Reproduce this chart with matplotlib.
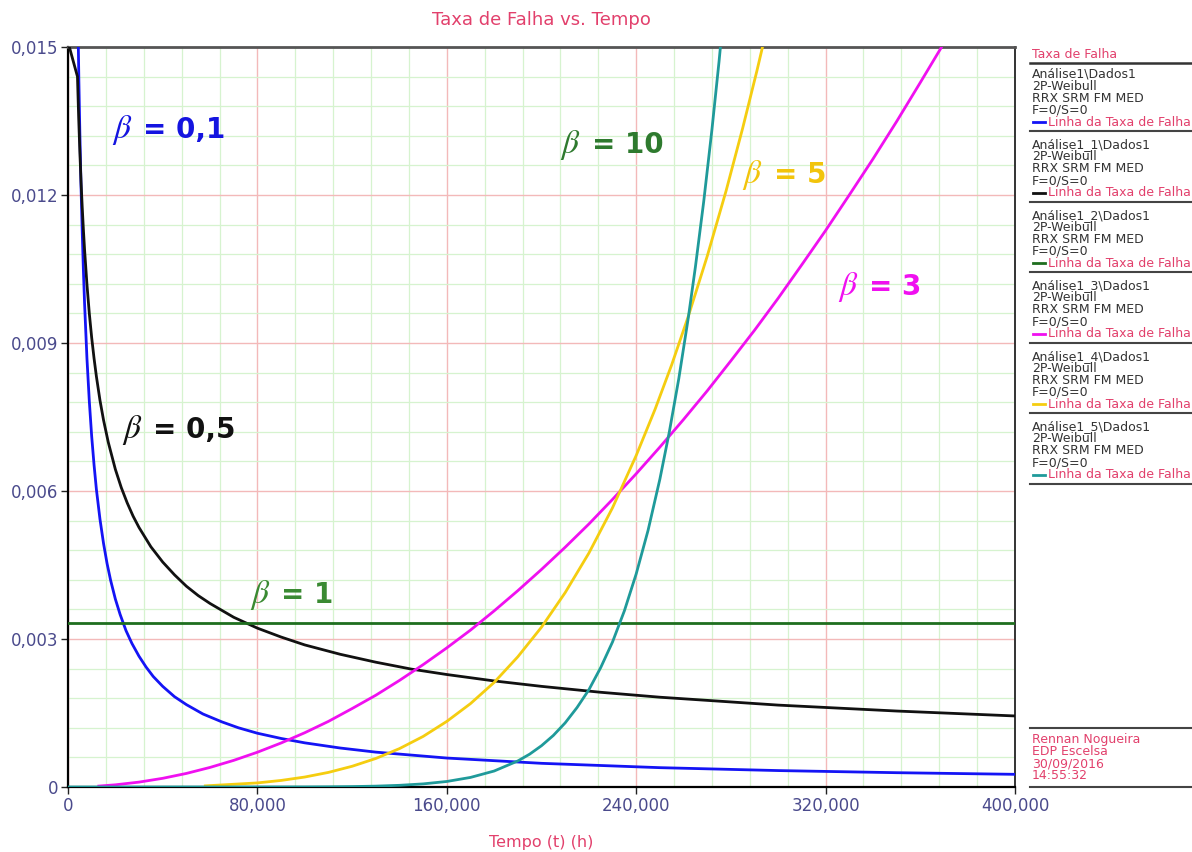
import matplotlib
matplotlib.use('Agg')
import matplotlib.pyplot as plt
from matplotlib.ticker import MultipleLocator

# --- data ---
# beta = 0.1 (blue)
time_b01 = [4300, 4600, 5000, 5500, 6000, 6500, 7000, 8000, 9000, 10000, 11000, 12000,
            13500, 15000, 16500, 18000, 20000, 22000, 24500, 27000, 30000, 33000, 36000,
            40000, 45000, 50000, 57000, 65000, 72000, 80000, 90000, 100000, 115000,
            130000, 160000, 200000, 250000, 300000, 350000, 400000]
rate_b01 = [0.0152, 0.01429, 0.01327, 0.01217, 0.01127, 0.01048, 0.00980, 0.00869,
            0.00782, 0.00711, 0.00653, 0.00603, 0.00543, 0.00494, 0.00453, 0.00419,
            0.00381, 0.00350, 0.00317, 0.00291, 0.00265, 0.00243, 0.00224, 0.00204,
            0.00183, 0.00167, 0.00148, 0.00132, 0.00120, 0.00109, 0.000984, 0.000895,
            0.000790, 0.000707, 0.000587, 0.000480, 0.000392, 0.000333, 0.000290, 0.000257]
# beta = 0.5 (black)
time_b05 = [0, 4000, 4500, 5000, 5500, 6000, 6500, 7000, 8000, 9000, 10000, 11000, 12000,
            13500, 15000, 17000, 20000, 22500, 25000, 27500, 30000, 35000, 40000, 45000,
            50000, 55000, 60000, 70000, 80000, 90000, 100000, 115000, 130000, 145000,
            160000, 180000, 200000, 225000, 250000, 275000, 300000, 325000, 350000,
            375000, 400000]
rate_b05 = [0.0151, 0.0144, 0.01358, 0.01288, 0.01228, 0.01176, 0.01130, 0.01089, 0.01019,
            0.00960, 0.00911, 0.00869, 0.00832, 0.00784, 0.00744, 0.00699, 0.00644,
            0.00607, 0.00576, 0.00549, 0.00526, 0.00487, 0.00456, 0.00430, 0.00407,
            0.00388, 0.00372, 0.00344, 0.00322, 0.00304, 0.00288, 0.00269, 0.00253,
            0.00239, 0.00228, 0.00215, 0.00204, 0.00192, 0.00182, 0.00174, 0.00166,
            0.00160, 0.00154, 0.00149, 0.00144]
# beta = 1 (green)
time_b1 = [0, 400000]
rate_b1 = [0.00332, 0.00332]
# beta = 3 (magenta)
time_b3 = [13000, 20000, 30000, 40000, 50000, 60000, 70000, 80000, 90000, 100000, 110000,
           120000, 130000, 140000, 150000, 160000, 170000, 180000, 190000, 200000, 210000,
           220000, 230000, 240000, 250000, 260000, 270000, 280000, 290000, 300000, 310000,
           320000, 330000, 340000, 350000, 360000, 366000, 372000]
rate_b3 = [0.0000186, 0.0000441, 0.0000991, 0.000176, 0.000275, 0.000397, 0.000540,
           0.000705, 0.000892, 0.00110, 0.00133, 0.00159, 0.00186, 0.00216, 0.00248,
           0.00282, 0.00318, 0.00357, 0.00398, 0.00441, 0.00486, 0.00533, 0.00583,
           0.00635, 0.00689, 0.00745, 0.00803, 0.00864, 0.00926, 0.00991, 0.01059,
           0.01128, 0.01200, 0.01273, 0.01349, 0.01428, 0.01476, 0.01524]
# beta = 5 (yellow)
time_b5 = [58000, 80000, 90000, 100000, 110000, 120000, 130000, 140000, 150000, 160000,
           170000, 180000, 190000, 200000, 210000, 220000, 230000, 240000, 248000, 255000,
           262000, 270000, 278000, 285000, 291000, 296000]
rate_b5 = [0.0000229, 0.0000829, 0.000133, 0.000202, 0.000296, 0.000420, 0.000578,
           0.000778, 0.001025, 0.00133, 0.00169, 0.00212, 0.00264, 0.00324, 0.00394,
           0.00474, 0.00566, 0.00672, 0.00766, 0.00856, 0.00954, 0.01076, 0.01209,
           0.01336, 0.01452, 0.01554]
# beta = 10 (teal)
time_b10 = [0, 100000, 110000, 120000, 130000, 140000, 150000, 160000, 170000, 180000,
            190000, 195000, 200000, 205000, 210000, 215000, 220000, 225000, 230000, 235000,
            240000, 245000, 250000, 254000, 258000, 262000, 265000, 268500, 272000, 275000,
            278000]
rate_b10 = [0.0, 0.0000016, 0.0000039, 0.0000084, 0.0000173, 0.000034, 0.000063, 0.000112,
            0.000194, 0.000324, 0.000528, 0.000666, 0.000837, 0.001045, 0.00130, 0.00161,
            0.00197, 0.00242, 0.00294, 0.00357, 0.00432, 0.00520, 0.00624, 0.00720,
            0.00828, 0.00951, 0.01054, 0.01186, 0.01333, 0.01471, 0.01622]

x_ticks = [0, 80000, 160000, 240000, 320000, 400000]
x_tick_labels = ['0', '80,000', '160,000', '240,000', '320,000', '400,000']
y_ticks = [0, 0.003, 0.006, 0.009, 0.012, 0.015]
y_tick_labels = ['0', '0,003', '0,006', '0,009', '0,012', '0,015']

curve_colors = ['#1414f5', '#111111', '#1e6e1e', '#f010f0', '#f5cd10', '#1f9a9a']
analysis_names = ['Análise1\\Dados1', 'Análise1_1\\Dados1', 'Análise1_2\\Dados1',
                  'Análise1_3\\Dados1', 'Análise1_4\\Dados1', 'Análise1_5\\Dados1']
footer_lines = ['Rennan Nogueira', 'EDP Escelsa', '30/09/2016', '14:55:32']

pink = '#e2406c'
tickblue = '#4a4a8c'

plt.rcParams['font.family'] = ['DejaVu Sans']
plt.rcParams['mathtext.fontset'] = 'stix'

fig = plt.figure(figsize=(11.92, 8.52), dpi=100)
ax = fig.add_axes([68 / 1192, 65 / 852, 947 / 1192, 740 / 852])

series = [(time_b01, rate_b01), (time_b05, rate_b05), (time_b1, rate_b1),
          (time_b3, rate_b3), (time_b5, rate_b5), (time_b10, rate_b10)]
for (t, h), c in zip(series, curve_colors):
	ax.plot(t, h, color=c, lw=2, solid_joinstyle='round', zorder=3)

ax.set_xlim(0, 400000)
ax.set_ylim(0, 0.015)
ax.set_xticks(x_ticks)
ax.set_xticklabels(x_tick_labels)
ax.set_yticks(y_ticks)
ax.set_yticklabels(y_tick_labels)
ax.xaxis.set_minor_locator(MultipleLocator(16000))
ax.yaxis.set_minor_locator(MultipleLocator(0.0006))
ax.grid(which='minor', color='#d6f3cf', lw=0.9, zorder=0)
ax.grid(which='major', color='#f3b9b9', lw=1.0, zorder=0)
ax.set_axisbelow(True)
ax.tick_params(which='minor', length=0)
ax.tick_params(which='major', direction='out', length=5, width=1, color='#222222',
               labelcolor=tickblue, labelsize=12, pad=2)
ax.spines['left'].set_linewidth(1.6)
ax.spines['bottom'].set_linewidth(1.6)
ax.spines['top'].set_linewidth(2)
ax.spines['top'].set_color('#555555')
ax.spines['right'].set_linewidth(1.4)
ax.spines['right'].set_color('#333333')

# beta labels
labels = [(0.0465, 0.888, '0,1', '#1414e0'), (0.057, 0.482, '0,5', '#111111'),
          (0.192, 0.259, '1', '#3a8a32'), (0.520, 0.868, '10', '#2e7a2e'),
          (0.712, 0.827, '5', '#f2c40c'), (0.813, 0.676, '3', '#f010f0')]
for x, y, b, c in labels:
	ax.text(x, y, r'$\beta$', transform=ax.transAxes, color=c, fontsize=24,
	        va='center', ha='left')
	ax.text(x + 0.033, y, '= ' + b, transform=ax.transAxes, color=c, fontsize=20,
	        fontweight='bold', va='center', ha='left')

fig.text(541 / 1192, 1 - 20 / 852, 'Taxa de Falha vs. Tempo', color=pink, fontsize=13,
         ha='center', va='center')
fig.text(541 / 1192, 1 - 842 / 852, 'Tempo (t) (h)', color=pink, fontsize=11.5,
         ha='center', va='center')

# side panel, in pixel coordinates
pan = fig.add_axes([1015 / 1192, 0, 177 / 1192, 1])
pan.set_xlim(1015, 1192)
pan.set_ylim(852, 0)
pan.axis('off')
pan.text(1032, 55, 'Taxa de Falha', color=pink, fontsize=9, va='center')
pan.plot([1030, 1192], [63, 63], color='#333333', lw=1.8)
for i, (name, c) in enumerate(zip(analysis_names, curve_colors)):
	y0 = 74 + 70.6 * i
	for j, s in enumerate([name, '2P-Weibull', 'RRX SRM FM MED', 'F=0/S=0']):
		pan.text(1032, y0 + 12 * j, s, color='#333333', fontsize=9, va='center')
	pan.plot([1033, 1045], [y0 + 48, y0 + 48], color=c, lw=2)
	pan.text(1048, y0 + 48, 'Linha da Taxa de Falha', color=pink, fontsize=9,
	         va='center', clip_on=False)
	pan.plot([1030, 1192], [y0 + 57, y0 + 57], color='#444444', lw=1.5)

pan.plot([1030, 1192], [728, 728], color='#444444', lw=1.5)
for j, s in enumerate(footer_lines):
	pan.text(1032, 739 + 12.3 * j, s, color=pink, fontsize=9, va='center')
pan.plot([1030, 1192], [787, 787], color='#444444', lw=1.5)

fig.savefig('out.png', dpi=100)
